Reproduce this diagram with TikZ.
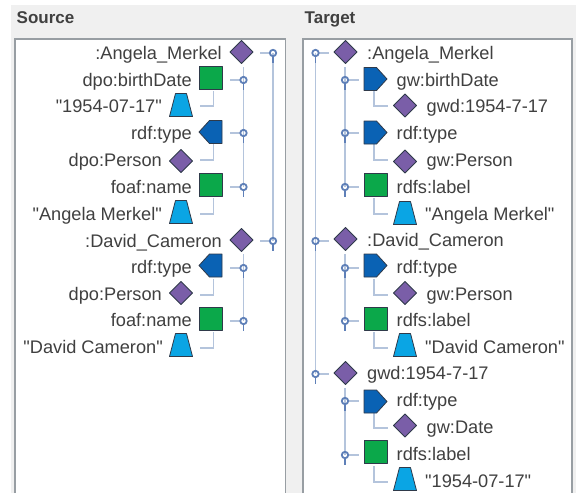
\documentclass[tikz,border=0pt]{standalone}
\usepackage{fontspec}
\setmainfont[Ligatures=TeXOff]{Liberation Sans}
\usetikzlibrary{calc}
\definecolor{panelbg}{HTML}{F0F0F0}
\definecolor{boxline}{HTML}{989EA3}
\definecolor{treeline}{HTML}{B4C4DC}
\definecolor{handle}{HTML}{5F80B8}
\definecolor{txt}{HTML}{404040}
\definecolor{indiv}{HTML}{7A5EA8}
\definecolor{dataprop}{HTML}{0BA84A}
\definecolor{objprop}{HTML}{0A62B4}
\definecolor{literal}{HTML}{0AA5E4}
\definecolor{iconline}{HTML}{2F3A4A}
\tikzset{
 lab/.style={font=\fontsize{18.2}{20}\selectfont,text=txt,inner sep=0pt,text height=12.5pt,text depth=1pt},
 heading/.style={font=\bfseries\fontsize{17}{18}\selectfont,text=txt,inner sep=0pt,anchor=base west},
 icon/.style={draw=iconline,line width=.8pt,line join=round},
 tline/.style={treeline,line width=1.2pt},
 hdl/.style={handle,line width=1.8pt},
}
\newcommand{\icoDiamond}[3]{\coordinate (#1) at (#2,#3);
 \filldraw[icon,fill=indiv] ($(#1)+(-11.5,0)$) -- ($(#1)+(0,-11.5)$) -- ($(#1)+(11.5,0)$) -- ($(#1)+(0,11.5)$) -- cycle;}
\newcommand{\icoSquare}[3]{\coordinate (#1) at (#2,#3);
 \filldraw[icon,fill=dataprop] ($(#1)+(-11.5,-11.5)$) rectangle ($(#1)+(11.5,11.5)$);}
\newcommand{\icoTrap}[3]{\coordinate (#1) at (#2,#3);
 \filldraw[icon,fill=literal] ($(#1)+(-11.5,11.5)$) -- ($(#1)+(-5.5,-11.5)$) -- ($(#1)+(5.5,-11.5)$) -- ($(#1)+(11.5,11.5)$) -- cycle;}
\newcommand{\icoPentL}[3]{\coordinate (#1) at (#2,#3);
 \filldraw[icon,fill=objprop] ($(#1)+(11.5,-11.5)$) -- ($(#1)+(-1,-11.5)$) -- ($(#1)+(-11.5,0)$) -- ($(#1)+(-1,11.5)$) -- ($(#1)+(11.5,11.5)$) -- cycle;}
\newcommand{\icoPentR}[3]{\coordinate (#1) at (#2,#3);
 \filldraw[icon,fill=objprop] ($(#1)+(-11.5,-11.5)$) -- ($(#1)+(1,-11.5)$) -- ($(#1)+(11.5,0)$) -- ($(#1)+(1,11.5)$) -- ($(#1)+(-11.5,11.5)$) -- cycle;}
\newcommand{\hdlmark}[3]{\coordinate (#1) at (#2,#3);
 \draw[hdl] (#1) circle (3.2);
 \draw[hdl] ($(#1)+(0,3)$) -- ($(#1)+(0,9.5)$);}
\begin{document}
\begin{tikzpicture}[x=1pt,y=-1pt]
\useasboundingbox (0,0) rectangle (576,493);
\fill[white] (0,0) rectangle (576,493);
\fill[panelbg] (11,5) rectangle (576,493);
\node[heading] (srchead) at (16.5,23) {Source};
\node[heading] (tgthead) at (304.5,23) {Target};
\fill[white] (15,39) rectangle (285.5,493);
\fill[white] (303,39) rectangle (572,493);
\draw[boxline,line width=1.5pt] (15,493) -- (15,39) -- (285.5,39) -- (285.5,493);
\draw[boxline,line width=1.5pt] (303,493) -- (303,39) -- (572,39) -- (572,493);

% ---------- SOURCE ----------
\draw[tline] (273,53) -- (273,241);
\draw[tline] (243.5,67) -- (243.5,187);
\draw[tline] (243.5,254) -- (243.5,321);
\foreach \y in {53,241} {\draw[tline] (260,\y) -- (270,\y); \hdlmark{sr\y}{273}{\y}}
\foreach \y in {80,133,187,268,321} {\draw[tline] (230,\y) -- (240,\y); \hdlmark{sp\y}{243.5}{\y}}
\foreach \y/\z in {80/106,133/160,187/214,268/295,321/348} {\draw[tline] (213.5,\y+11) -- (213.5,\z) -- (200,\z);}

\icoDiamond{a1}{241.5}{52}
\icoSquare{a2}{210.5}{78}
\icoTrap{a3}{181}{105}
\icoPentL{a4}{210.5}{132}
\icoDiamond{a5}{181}{161}
\icoSquare{a6}{210.5}{185}
\icoTrap{a7}{181}{212}
\icoDiamond{a8}{241.5}{240}
\icoPentL{a9}{210.5}{265.5}
\icoDiamond{a10}{181}{293}
\icoSquare{a11}{210.5}{318.5}
\icoTrap{a12}{181}{345}

\node[lab,anchor=east] (s1) at (222,54) {:Angela\_Merkel};
\node[lab,anchor=east] (s2) at (192,81) {dpo:birthDate};
\node[lab,anchor=east] (s3) at (162,107) {"1954-07-17"};
\node[lab,anchor=east] (s4) at (192,134) {rdf:type};
\node[lab,anchor=east] (s5) at (162,161) {dpo:Person};
\node[lab,anchor=east] (s6) at (192,188) {foaf:name};
\node[lab,anchor=east] (s7) at (162,215) {"Angela Merkel"};
\node[lab,anchor=east] (s8) at (222,242) {:David\_Cameron};
\node[lab,anchor=east] (s9) at (192,268) {rdf:type};
\node[lab,anchor=east] (s10) at (162,295) {dpo:Person};
\node[lab,anchor=east] (s11) at (192,321) {foaf:name};
\node[lab,anchor=east] (s12) at (163,348) {"David Cameron"};

% ---------- TARGET ----------
\draw[tline] (315.5,53) -- (315.5,374);
\draw[tline] (345,67) -- (345,187);
\draw[tline] (345,254) -- (345,321);
\draw[tline] (345,388) -- (345,455);
\foreach \y in {53,241,374} {\draw[tline] (319,\y) -- (329,\y); \hdlmark{tr\y}{315.5}{\y}}
\foreach \y in {80,133,187,268,321,401,455} {\draw[tline] (349,\y) -- (359,\y); \hdlmark{tp\y}{345}{\y}}
\foreach \y/\z in {80/106,133/160,187/214,268/295,321/348,401/428,455/482} {\draw[tline] (374,\y+11) -- (374,\z) -- (388,\z);}

\icoDiamond{b1}{345.5}{52}
\icoPentR{b2}{375.5}{79}
\icoDiamond{b3}{405}{105.5}
\icoPentR{b4}{375.5}{132.5}
\icoDiamond{b5}{405}{161.5}
\icoSquare{b6}{375.5}{185}
\icoTrap{b7}{405}{213}
\icoDiamond{b8}{345.5}{239}
\icoPentR{b9}{375.5}{265.5}
\icoDiamond{b10}{405}{293}
\icoSquare{b11}{375.5}{318.5}
\icoTrap{b12}{405}{345}
\icoDiamond{b13}{345.5}{373}
\icoPentR{b14}{375.5}{401.5}
\icoDiamond{b15}{405}{425.5}
\icoSquare{b16}{375.5}{452}
\icoTrap{b17}{405}{479}

\node[lab,anchor=west] (t1) at (367,54) {:Angela\_Merkel};
\node[lab,anchor=west] (t2) at (396.5,81) {gw:birthDate};
\node[lab,anchor=west] (t3) at (426.5,107) {gwd:1954-7-17};
\node[lab,anchor=west] (t4) at (396.5,134) {rdf:type};
\node[lab,anchor=west] (t5) at (426.5,161) {gw:Person};
\node[lab,anchor=west] (t6) at (396.5,188) {rdfs:label};
\node[lab,anchor=west] (t7) at (425,215) {"Angela Merkel"};
\node[lab,anchor=west] (t8) at (367,241) {:David\_Cameron};
\node[lab,anchor=west] (t9) at (396.5,268) {rdf:type};
\node[lab,anchor=west] (t10) at (426.5,295) {gw:Person};
\node[lab,anchor=west] (t11) at (396.5,321) {rdfs:label};
\node[lab,anchor=west] (t12) at (425,348) {"David Cameron"};
\node[lab,anchor=west] (t13) at (367,374) {gwd:1954-7-17};
\node[lab,anchor=west] (t14) at (396.5,401) {rdf:type};
\node[lab,anchor=west] (t15) at (426.5,428) {gw:Date};
\node[lab,anchor=west] (t16) at (396.5,455) {rdfs:label};
\node[lab,anchor=west] (t17) at (425,482) {"1954-07-17"};
\end{tikzpicture}
\end{document}
